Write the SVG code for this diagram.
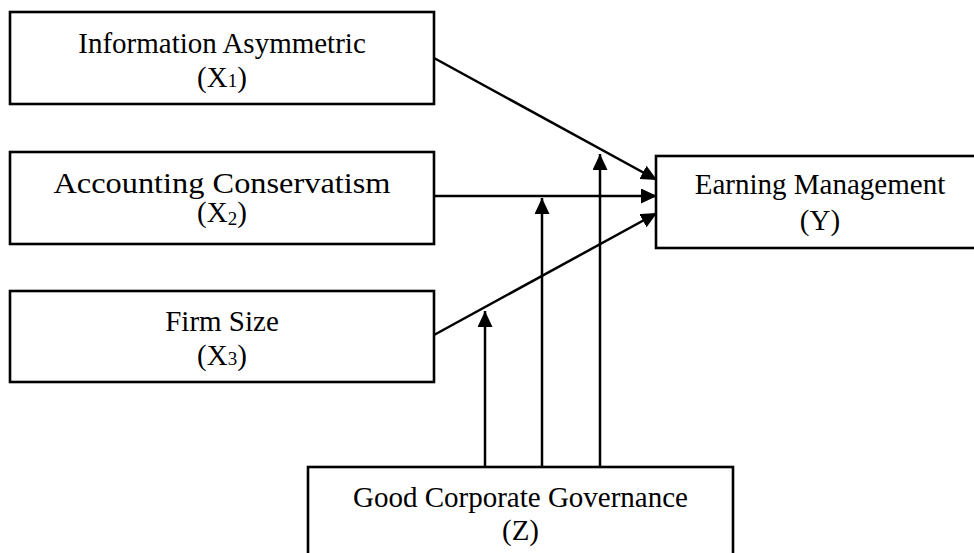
<svg xmlns="http://www.w3.org/2000/svg" width="974" height="553" viewBox="0 0 974 553">
<style>
.box{fill:#fff;stroke:#000;stroke-width:2.6}
.t{font-family:"Liberation Serif","Times New Roman",serif;font-size:29px;fill:#000;text-anchor:middle}
.sub{font-size:19px}
.c{stroke:#000;stroke-width:2.5;fill:none;marker-end:url(#ah)}
</style>
<defs>
<marker id="ah" markerUnits="userSpaceOnUse" markerWidth="17" markerHeight="16" refX="16" refY="7.5" orient="auto" viewBox="0 0 17 16">
<path d="M0,0 L16,7.5 L0,15 z" fill="#000"/>
</marker>
</defs>
<rect width="974" height="553" fill="#fff"/>
<g id="connectors">
<line class="c" x1="434" y1="58" x2="657" y2="180"/>
<line class="c" x1="434" y1="196" x2="657" y2="196"/>
<line class="c" x1="434" y1="335" x2="657" y2="213"/>
<line class="c" x1="485" y1="467" x2="485" y2="311"/>
<line class="c" x1="542" y1="467" x2="542" y2="198"/>
<line class="c" x1="600" y1="467" x2="600" y2="154"/>
</g>
<g id="x1">
<rect class="box" x="10" y="12" width="424" height="92"/>
<text class="t" x="222" y="53">Information Asymmetric</text>
<text class="t" x="222" y="87">(X<tspan class="sub">1</tspan>)</text>
</g>
<g id="x2">
<rect class="box" x="10" y="152" width="424" height="92"/>
<text class="t" x="222" y="193" font-size="30" textLength="337" lengthAdjust="spacingAndGlyphs">Accounting Conservatism</text>
<text class="t" x="222" y="222">(X<tspan class="sub" dy="3">2</tspan><tspan dy="-3">)</tspan></text>
</g>
<g id="x3">
<rect class="box" x="10" y="291" width="424" height="91"/>
<text class="t" x="222" y="331">Firm Size</text>
<text class="t" x="222" y="365">(X<tspan class="sub">3</tspan>)</text>
</g>
<g id="y">
<rect class="box" x="656" y="156" width="330" height="92"/>
<text class="t" x="820" y="194">Earning Management</text>
<text class="t" x="820" y="230">(Y)</text>
</g>
<g id="z">
<rect class="box" x="308" y="467" width="425" height="100"/>
<text class="t" x="520.5" y="507">Good Corporate Governance</text>
<text class="t" x="520.5" y="540">(Z)</text>
</g>
</svg>
